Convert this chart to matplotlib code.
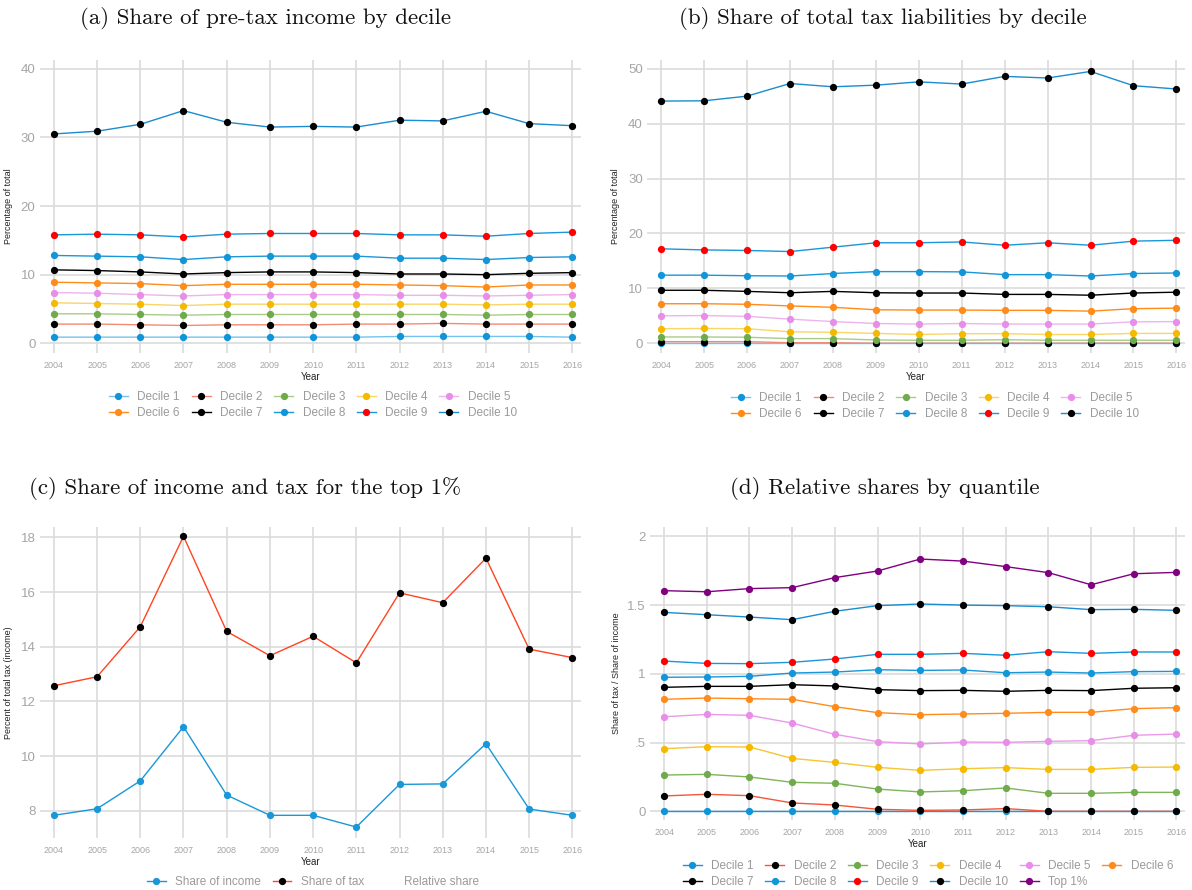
import matplotlib
matplotlib.use("Agg")
import matplotlib.pyplot as plt
from matplotlib.lines import Line2D
from matplotlib.ticker import FixedLocator, FuncFormatter

years = list(range(2004, 2017))

# (a) share of pre-tax income, deciles 1..10 (percent)
income_by_decile = [
    [0.9, 0.9, 0.9, 0.9, 0.9, 0.9, 0.9, 0.9, 1.0, 1.0, 1.0, 1.0, 0.9],
    [2.8, 2.8, 2.7, 2.6, 2.7, 2.7, 2.7, 2.8, 2.8, 2.9, 2.8, 2.8, 2.8],
    [4.3, 4.3, 4.2, 4.1, 4.2, 4.2, 4.2, 4.2, 4.2, 4.2, 4.1, 4.2, 4.2],
    [5.9, 5.8, 5.7, 5.5, 5.7, 5.7, 5.7, 5.7, 5.7, 5.7, 5.6, 5.7, 5.7],
    [7.4, 7.3, 7.1, 6.9, 7.1, 7.1, 7.1, 7.1, 7.0, 7.0, 6.9, 7.0, 7.1],
    [8.9, 8.8, 8.7, 8.4, 8.6, 8.6, 8.6, 8.6, 8.5, 8.4, 8.2, 8.5, 8.5],
    [10.7, 10.6, 10.4, 10.1, 10.3, 10.4, 10.4, 10.3, 10.1, 10.1, 10.0, 10.2, 10.3],
    [12.8, 12.7, 12.6, 12.2, 12.6, 12.7, 12.7, 12.7, 12.4, 12.4, 12.2, 12.5, 12.6],
    [15.8, 15.9, 15.8, 15.5, 15.9, 16.0, 16.0, 16.0, 15.8, 15.8, 15.6, 16.0, 16.2],
    [30.5, 30.9, 31.9, 33.9, 32.2, 31.5, 31.6, 31.5, 32.5, 32.4, 33.8, 32.0, 31.7],
]

# (b) share of total tax liabilities, deciles 1..10 (percent)
tax_by_decile = [
    [0.0, 0.0, 0.0, 0.0, 0.0, 0.0, 0.0, 0.0, 0.0, 0.0, 0.0, 0.0, 0.0],
    [0.3, 0.3, 0.3, 0.1, 0.1, 0.0, 0.0, 0.0, 0.0, 0.0, 0.0, 0.0, 0.0],
    [1.15, 1.15, 1.1, 0.85, 0.85, 0.6, 0.55, 0.55, 0.65, 0.55, 0.55, 0.55, 0.55],
    [2.65, 2.7, 2.65, 2.1, 2.0, 1.8, 1.6, 1.75, 1.75, 1.6, 1.6, 1.8, 1.8],
    [5.0, 5.05, 4.9, 4.4, 3.95, 3.6, 3.5, 3.6, 3.5, 3.5, 3.5, 3.9, 3.95],
    [7.2, 7.2, 7.1, 6.8, 6.55, 6.1, 6.05, 6.05, 6.0, 6.0, 5.85, 6.3, 6.4],
    [9.65, 9.65, 9.45, 9.2, 9.45, 9.2, 9.15, 9.15, 8.9, 8.9, 8.75, 9.15, 9.3],
    [12.4, 12.4, 12.3, 12.25, 12.7, 13.05, 13.05, 13.0, 12.5, 12.5, 12.25, 12.7, 12.8],
    [17.2, 17.0, 16.9, 16.7, 17.5, 18.3, 18.3, 18.45, 17.85, 18.3, 17.85, 18.6, 18.75],
    [44.1, 44.15, 45.0, 47.3, 46.7, 47.0, 47.6, 47.2, 48.6, 48.3, 49.5, 46.9, 46.3],
]

# (c) top 1% shares (percent)
top1_income = [7.83, 8.07, 9.09, 11.07, 8.57, 7.83, 7.83, 7.40, 8.96, 8.98, 10.45, 8.06, 7.83]
top1_tax = [12.57, 12.90, 14.73, 18.04, 14.56, 13.67, 14.38, 13.41, 15.97, 15.61, 17.24, 13.91, 13.60]

# (d) share of tax / share of income, deciles 1..10 then top 1%
relative_by_decile = [
    [0.0] * 13,
    [0.112, 0.124, 0.114, 0.061, 0.046, 0.015, 0.007, 0.010, 0.020, 0.0, 0.0, 0.0, 0.0],
    [0.264, 0.269, 0.250, 0.211, 0.204, 0.162, 0.141, 0.150, 0.170, 0.131, 0.131, 0.138, 0.138],
    [0.456, 0.470, 0.468, 0.385, 0.356, 0.320, 0.298, 0.310, 0.318, 0.305, 0.305, 0.320, 0.322],
    [0.688, 0.705, 0.698, 0.642, 0.560, 0.507, 0.490, 0.504, 0.502, 0.509, 0.514, 0.553, 0.562],
    [0.815, 0.824, 0.819, 0.815, 0.761, 0.718, 0.703, 0.708, 0.713, 0.720, 0.720, 0.747, 0.754],
    [0.902, 0.909, 0.909, 0.921, 0.912, 0.885, 0.878, 0.880, 0.873, 0.880, 0.878, 0.895, 0.899],
    [0.975, 0.977, 0.982, 1.006, 1.013, 1.030, 1.025, 1.028, 1.008, 1.013, 1.006, 1.016, 1.018],
    [1.093, 1.076, 1.074, 1.084, 1.108, 1.142, 1.142, 1.149, 1.135, 1.161, 1.149, 1.159, 1.159],
    [1.447, 1.430, 1.413, 1.394, 1.455, 1.496, 1.508, 1.500, 1.496, 1.488, 1.467, 1.469, 1.462],
]
relative_top1 = [1.605, 1.597, 1.620, 1.627, 1.700, 1.748, 1.835, 1.820, 1.780, 1.736, 1.648, 1.728, 1.738]

decile_labels = [f"Decile {i}" for i in range(1, 11)]

line_colors = ["#74C3EC", "#F58A74", "#A8CC88", "#F9D56A", "#EDB5EE",
               "#FF8C1A", "#000000", "#1A97D8", "#1A97D8", "#1A8CD0"]
marker_colors = ["#0F95D7", "#000000", "#6FAB4A", "#F5BA00", "#E88DE8",
                 "#FF8C1A", "#000000", "#1296DA", "#FF0000", "#000000"]
rel_line_colors = ["#1A97D8", "#F5553A", "#7FB55A", "#F7C630", "#E99AEA",
                   "#FF8C1A", "#000000", "#1A97D8", "#1A97D8", "#1A8CD0"]

GRID = "#DCDCDC"
TICK = "#A5A5A5"
SANS = "Liberation Sans"
W, H = 1192, 890


def frame(left, top, right, bottom):
    return [left / W, 1 - bottom / H, (right - left) / W, (bottom - top) / H]


def style(ax, ylabel, ylim, yticks, fmt=None):
    for s in ax.spines.values():
        s.set_visible(False)
    ax.set_xlim(2003.67, 2016.2)
    ax.set_ylim(*ylim)
    ax.xaxis.set_major_locator(FixedLocator(years))
    ax.yaxis.set_major_locator(FixedLocator(yticks))
    if fmt is not None:
        ax.yaxis.set_major_formatter(FuncFormatter(fmt))
    ax.grid(True, color=GRID, linewidth=1.2)
    ax.set_axisbelow(True)
    ax.tick_params(length=0)
    ax.tick_params(axis="x", labelsize=6.5, labelcolor=TICK, pad=6)
    ax.tick_params(axis="y", labelsize=9.5, labelcolor=TICK, pad=3)
    for t in ax.get_xticklabels() + ax.get_yticklabels():
        t.set_family(SANS)
    ax.set_xlabel("Year", fontsize=7, family=SANS, color="#222222", labelpad=1)
    ax.set_ylabel(ylabel, fontsize=6.5, family=SANS, color="#222222")
    ax.yaxis.set_label_coords(-0.05, 0.5)


def series(ax, y, lc, mc):
    ax.plot(years, y, color=lc, linewidth=1.0, marker="o", markersize=4.2,
            markerfacecolor=mc, markeredgecolor=mc, zorder=3)


def handle(lc, mc):
    return Line2D([], [], color=lc, linewidth=1.0, marker="o", markersize=4.2,
                  markerfacecolor=mc, markeredgecolor=mc)


def legend(fig, handles, labels, ncol, cx, cy):
    # matplotlib fills legend columns first; reorder so entries read across rows
    nrow = -(-len(handles) // ncol)
    order = [r * ncol + c for c in range(ncol) for r in range(nrow)
             if r * ncol + c < len(handles)]
    fig.legend([handles[i] for i in order], [labels[i] for i in order],
               ncol=ncol, loc="center",
               bbox_to_anchor=(cx / W, 1 - cy / H), frameon=False,
               prop={"family": SANS, "size": 8.5}, labelcolor="#9A9A9A",
               handlelength=1.6, handletextpad=0.8, columnspacing=1.0,
               labelspacing=0.3, borderpad=0)


fig = plt.figure(figsize=(W / 100, H / 100), dpi=100)
title_font = {"family": "cmr10", "size": 16.5, "color": "#111111"}

# (a)
ax = fig.add_axes(frame(39.6, 60, 581, 353))
for y, lc, mc in zip(income_by_decile, line_colors, marker_colors):
    series(ax, y, lc, mc)
style(ax, "Percentage of total", (-1.41, 41.27), [0, 10, 20, 30, 40])
fig.text(265 / W, 1 - 19 / H, "(a) Share of pre-tax income by decile",
         ha="center", va="center", **title_font)
legend(fig, [handle(l, m) for l, m in zip(line_colors, marker_colors)],
       decile_labels, 5, 313, 405)

# (b)
ax = fig.add_axes(frame(647, 60, 1185, 353))
for y, lc, mc in zip(tax_by_decile, line_colors, marker_colors):
    series(ax, y, lc, mc)
style(ax, "Percentage of total", (-1.77, 51.58), [0, 10, 20, 30, 40, 50])
fig.text(883 / W, 1 - 19 / H, "(b) Share of total tax liabilities by decile",
         ha="center", va="center", **title_font)
legend(fig, [handle(l, m) for l, m in zip(line_colors, marker_colors)],
       decile_labels, 5, 935, 406)

# (c)
ax = fig.add_axes(frame(39.6, 527, 581, 838))
series(ax, top1_income, "#1A97D8", "#1A97D8")
series(ax, top1_tax, "#FF4422", "#000000")
style(ax, "Percent of total tax (income)", (7.0, 18.38), [8, 10, 12, 14, 16, 18])
fig.text(245 / W, 1 - 488 / H, "(c) Share of income and tax for the top 1%",
         ha="center", va="center", **title_font)
legend(fig, [handle("#1A97D8", "#1A97D8"), handle("#FF4422", "#000000"),
             Line2D([], [], linestyle="none")],
       ["Share of income", "Share of tax", "Relative share"], 3, 313, 882)

# (d)
ax = fig.add_axes(frame(650, 527, 1185, 820))
for y, lc, mc in zip(relative_by_decile, rel_line_colors, marker_colors):
    series(ax, y, lc, mc)
series(ax, relative_top1, "#800080", "#800080")
style(ax, "Share of tax / Share of income", (-0.063, 2.068), [0, 0.5, 1, 1.5, 2],
      fmt=lambda v, p: f"{v:g}".replace("0.", "."))
ax.yaxis.set_label_coords(-0.054, 0.5)
fig.text(885 / W, 1 - 488 / H, "(d) Relative shares by quantile",
         ha="center", va="center", **title_font)
legend(fig, [handle(l, m) for l, m in zip(rel_line_colors, marker_colors)]
       + [handle("#800080", "#800080")],
       decile_labels + ["Top 1%"], 6, 928, 874)

fig.savefig("out.png", dpi=100)
